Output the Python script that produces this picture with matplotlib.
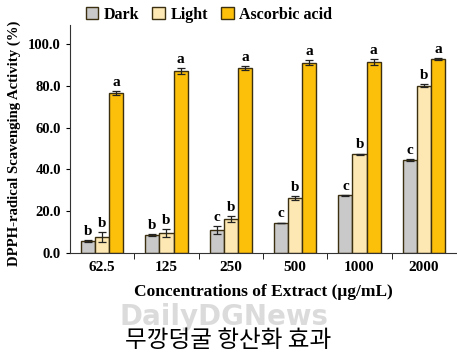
import matplotlib.pyplot as plt
import numpy as np

# 데이터
concs = ['62.5', '125', '250', '500', '1000', '2000']
dark = [5.6, 8.5, 10.9, 14.4, 27.6, 44.5]
dark_err = [0.5, 0.5, 2.0, 0.2, 0.3, 0.5]
light = [7.7, 9.7, 16.2, 26.3, 47.2, 80.0]
light_err = [2.5, 2.0, 1.3, 1.0, 0.4, 0.8]
asc = [76.5, 87.0, 88.5, 90.9, 91.3, 92.8]
asc_err = [1.0, 1.3, 1.0, 1.2, 1.5, 0.5]
dark_sig = ['b', 'b', 'c', 'c', 'c', 'c']
light_sig = ['b', 'b', 'b', 'b', 'b', 'b']
asc_sig = ['a', 'a', 'a', 'a', 'a', 'a']

plt.rcParams['font.family'] = ['Liberation Serif', 'DejaVu Serif']

fig = plt.figure(figsize=(4.57, 3.58), dpi=100)
ax = fig.add_axes([0.153, 0.293, 0.845, 0.637])

x = np.arange(len(concs))
w = 0.22
series = [
    ('Dark', dark, dark_err, dark_sig, '#c9c9c9', -w),
    ('Light', light, light_err, light_sig, '#fde8b3', 0),
    ('Ascorbic acid', asc, asc_err, asc_sig, '#fcbf0a', w),
]
for name, vals, errs, sig, col, off in series:
    ax.bar(x + off, vals, w, color=col, edgecolor='#3b2f10', linewidth=1.0,
           label=name, zorder=2)
    ax.errorbar(x + off, vals, yerr=errs, fmt='none', ecolor='#222222',
                elinewidth=0.9, capsize=3, capthick=0.9, zorder=3)
    for xi, v, e, s in zip(x + off, vals, errs, sig):
        ax.text(xi, v + e + 1.0, s, ha='center', va='bottom',
                fontsize=11, fontweight='bold')

ax.set_xlim(-0.5, 5.5)
ax.set_ylim(0, 109)
ax.set_yticks(np.arange(0, 101, 20))
ax.set_yticklabels(['%.1f' % v for v in np.arange(0, 101, 20)],
                   fontsize=10.5, fontweight='bold')
ax.set_xticks(x)
ax.set_xticklabels(concs, fontsize=11, fontweight='bold')
ax.set_xticks(np.arange(0.5, 5.5, 1), minor=True)
ax.tick_params(axis='x', which='major', length=0, pad=6)
ax.tick_params(axis='x', which='minor', length=4, direction='out')
ax.tick_params(axis='y', length=3, direction='out')
for s in ['top', 'right']:
    ax.spines[s].set_visible(False)
for s in ['left', 'bottom']:
    ax.spines[s].set_color('#333333')

ax.set_ylabel('DPPH-radical Scavenging Activity (%)', fontsize=10.6,
              fontweight='bold')
ax.yaxis.set_label_coords(-0.127, 0.48)
ax.set_xlabel('Concentrations of Extract (\u03bcg/mL)', fontsize=12.5,
              fontweight='bold', labelpad=7)

leg = ax.legend(loc='lower left', bbox_to_anchor=(0.02, 0.975), ncol=3,
                frameon=False, handlelength=0.8,
                handleheight=0.8, handletextpad=0.35, columnspacing=0.8,
                borderpad=0, prop={'weight': 'bold', 'size': 11.5})

# 워터마크 + 캡션
fig.text(0.49, 0.115, 'DailyDGNews', fontsize=20, color='#9a9a9a', alpha=0.35,
         ha='center', va='center', family='DejaVu Sans', fontweight='bold')
fig.text(0.5, 0.048, '무깡덩굴 항산화 효과', fontsize=17, ha='center',
         va='center', family=['Noto Sans CJK KR', 'DejaVu Sans'])

fig.savefig('out.png', dpi=100)
